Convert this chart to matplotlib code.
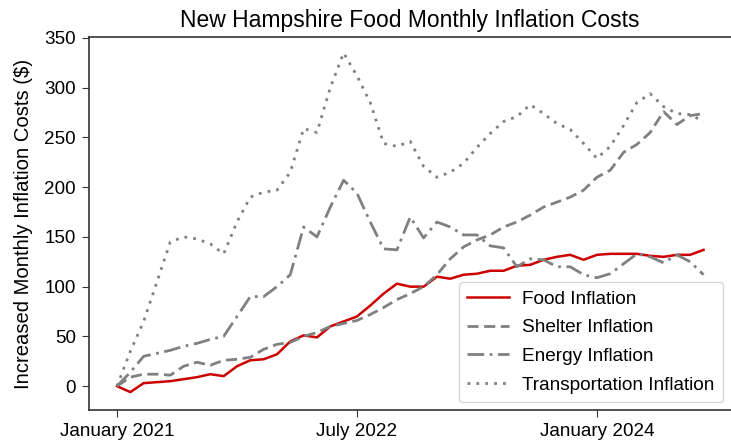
import matplotlib
matplotlib.use("Agg")
import matplotlib.pyplot as plt
import numpy as np

plt.rcParams["font.family"] = ["Liberation Sans", "DejaVu Sans"]

# monthly values, January 2021 .. September 2024
food = [0, -6, 3, 4, 5, 7, 9, 12, 10, 20, 26, 27, 32, 45, 51, 49, 60, 65, 70, 81,
        93, 103, 100, 100, 110, 108, 112, 113, 116, 116, 121, 122, 127, 130, 132, 127,
        132, 133, 133, 133, 131, 130, 132, 132, 137]
shelter = [0, 9, 12, 12, 11, 20, 24, 21, 26, 27, 29, 37, 42, 44, 50, 54, 60, 63, 66, 72,
           79, 87, 93, 100, 112, 128, 140, 147, 152, 160, 165, 172, 180, 185, 190, 197,
           210, 217, 235, 243, 255, 276, 263, 272, 274]
energy = [0, 14, 30, 33, 36, 40, 43, 47, 50, 70, 90, 90, 100, 112, 160, 150, 180, 207, 194, 165,
          138, 137, 170, 149, 165, 160, 152, 152, 141, 139, 120, 128, 127, 120, 120, 112,
          109, 113, 123, 133, 130, 124, 132, 125, 112]
transport = [0, 35, 65, 105, 145, 150, 148, 143, 133, 165, 190, 195, 197, 215, 259, 255, 300, 335, 312, 285,
             244, 241, 246, 221, 210, 215, 224, 240, 254, 266, 271, 283, 274, 264, 258, 244,
             229, 241, 262, 285, 294, 281, 274, 273, 266]
tick_pos = [0, 18, 36]
tick_labels = ["January 2021", "July 2022", "January 2024"]

months = np.arange(len(food))

fig = plt.figure(figsize=(7.31, 4.48), dpi=100)
ax = fig.add_axes([89 / 731, 38 / 448, 642 / 731, 373 / 448])

ax.plot(months, food, color="#cc0000", linewidth=1.8, label="Food Inflation")
ax.plot(months, shelter, color="#808080", linewidth=2.0, linestyle=(0, (4, 2)), label="Shelter Inflation")
ax.plot(months, energy, color="#808080", linewidth=2.0, linestyle=(0, (6, 2, 1, 2)), label="Energy Inflation")
ax.plot(months, transport, color="#808080", linewidth=2.0, linestyle=(0, (1, 2.2)), label="Transportation Inflation")

ax.set_xlim(-2.1, 46.06)
ax.set_ylim(-24, 351)
ax.set_xticks(tick_pos)
ax.set_xticklabels(tick_labels)
ax.set_yticks(np.arange(0, 351, 50))
ax.tick_params(labelsize=13.6, length=5, pad=4.5, color="#333333")
for side in ax.spines.values():
    side.set_color("#333333")
    side.set_linewidth(1.2)
ax.spines["right"].set_visible(False)

ax.set_title("New Hampshire Food Monthly Inflation Costs", fontsize=16.5, pad=7)
ax.set_ylabel("Increased Monthly Inflation Costs ($)", fontsize=14.6, labelpad=8)
ax.legend(loc="lower right", fontsize=13.7, frameon=True, handlelength=2.2,
          handletextpad=0.7, labelspacing=0.6, borderpad=0.45, borderaxespad=0.4)

fig.savefig("out.png", dpi=100)
